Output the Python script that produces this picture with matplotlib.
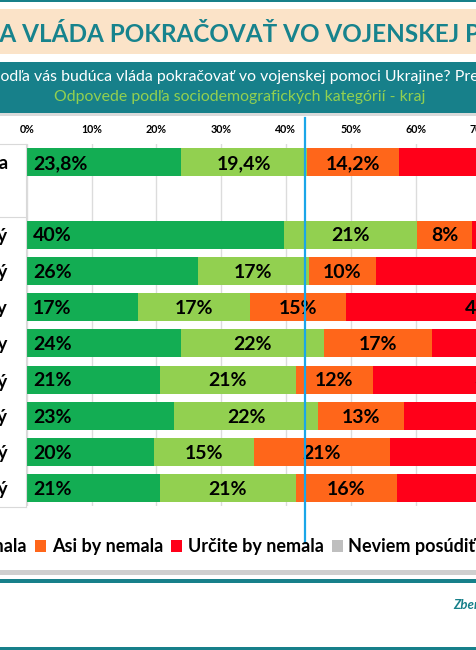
import matplotlib
matplotlib.use('Agg')
import matplotlib.pyplot as plt
from matplotlib.patches import Rectangle
from matplotlib.lines import Line2D
import numpy as np

plt.rcParams['font.family'] = ['Lato', 'DejaVu Sans']

W, H, DPI = 476, 650, 100

# ---------------- data ----------------
categories = ["Slovenská republika", "Bratislavský", "Trnavský", "Trenčiansky",
              "Nitriansky", "Žilinský", "Banskobystrický", "Prešovský", "Košický"]
series_names = ["Určite by mala", "Asi by mala", "Asi by nemala",
                "Určite by nemala", "Neviem posúdiť"]
urcite_mala   = [23.8, 39.7, 26.4, 17.1, 23.8, 20.6, 22.8, 19.6, 20.6]
asi_mala      = [19.4, 20.6, 17.1, 17.3, 22.1, 20.9, 22.1, 15.4, 20.9]
asi_nemala    = [14.2,  8.4, 10.4, 14.9, 16.6, 12.0, 13.4, 21.1, 15.6]
urcite_nemala = [33.9, 24.3, 38.2, 42.6, 29.4, 37.0, 33.2, 35.6, 34.4]
neviem        = [ 8.7,  7.0,  7.9,  8.1,  8.1,  9.5,  8.5,  8.3,  8.5]
tick_values = list(range(0, 101, 10))
tick_labels = [f"{v}%" for v in tick_values]
ref_line = 42.9

title = "MALA BY BUDÚCA VLÁDA POKRAČOVAŤ VO VOJENSKEJ POMOCI UKRAJINE?"
question = "Mala by podľa vás budúca vláda pokračovať vo vojenskej pomoci Ukrajine? Prečo?"
subtitle = "Odpovede podľa sociodemografických kategórií - kraj"
source = "Zber údajov: 2023"

colors = ['#13AD53', '#92D050', '#FF661A', '#FF0019', '#BFBFBF']
teal = '#17808A'
beige = '#FBE3C8'

series = [urcite_mala, asi_mala, asi_nemala, urcite_nemala, neviem]

fig = plt.figure(figsize=(W / DPI, H / DPI), dpi=DPI)
fig.patch.set_facecolor('white')


def add_rect(x0, y0, x1, y1, color, z=0):
    fig.add_artist(Rectangle((x0 / W, 1 - y1 / H), (x1 - x0) / W, (y1 - y0) / H,
                             transform=fig.transFigure, facecolor=color,
                             edgecolor='none', zorder=z))


def add_line(x0, y0, x1, y1, color, lw, z=1):
    fig.add_artist(Line2D([x0 / W, x1 / W], [1 - y0 / H, 1 - y1 / H],
                          transform=fig.transFigure, color=color, lw=lw, zorder=z))


# header decorations
add_rect(-5, 0, W + 5, 1.8, teal)
add_rect(-5, 9, W + 5, 54.3, beige)
add_rect(-5, 61.7, W + 5, 113.3, teal)
add_rect(-5, 113.3, W + 5, 116, '#DADADA')

# footer decorations
add_rect(-5, 569.5, W + 5, 574.5, '#CFCFCF')
add_rect(-5, 579.3, W + 5, 582.7, teal)
add_rect(-5, 646.5, W + 5, 650, teal)

renderer = fig.canvas.get_renderer()


def place_cut_text(full, prefix, x_end_px, y_base_px, **kw):
    tmp = fig.text(0, 0, prefix, **kw)
    wpre = tmp.get_window_extent(renderer).width
    tmp.remove()
    fig.text((x_end_px - wpre) / W, 1 - y_base_px / H, full, va='baseline', ha='left', **kw)


place_cut_text(title, "MALA BY BUDÚC", -1, 42.0,
               fontsize=17.5, fontweight='bold', color='#17838D')
place_cut_text(question, "Mala by ", -8, 81,
               fontsize=11.4, color='white')
fig.text(240 / W, 1 - 101 / H, subtitle, ha='center', va='baseline',
         fontsize=11.4, color='#92D050')
fig.text(453 / W, 1 - 609 / H, source, ha='left', va='baseline',
         fontsize=9.5, fontweight='bold', fontstyle='italic', color=teal)

# ---------------- chart ----------------
x0p, x1p = 26.7, 674.7
top, bot = 144.0, 506.4
ax = fig.add_axes([x0p / W, 1 - bot / H, (x1p - x0p) / W, (bot - top) / H])
ax.set_xlim(0, 100)
ax.set_ylim(9.5, -0.5)
ax.patch.set_alpha(0)

ypos = np.array([0] + [2 + i for i in range(len(categories) - 1)])
left = np.zeros(len(categories))
bars = []
for si, (vals, col) in enumerate(zip(series, colors)):
    vals = np.array(vals)
    b = ax.barh(ypos, vals, left=left, height=0.77, color=col, zorder=2,
                label=series_names[si])
    bars.append(b)
    for i, (v, l, y) in enumerate(zip(vals, left, ypos)):
        txt = f"{v:.1f}%".replace('.', ',') if i == 0 else f"{round(v)}%"
        if si == 0:
            ax.text(l + 1.0, y + 0.19, txt, ha='left', va='baseline',
                    fontsize=14, fontweight='bold', color='black', zorder=4)
        else:
            ax.text(l + v / 2, y + 0.19, txt, ha='center', va='baseline',
                    fontsize=14, fontweight='bold', color='black', zorder=4)
    left = left + vals

ax.set_xticks(tick_values)
ax.set_xticklabels(tick_labels, fontsize=7.7, fontweight='bold')
ax.xaxis.tick_top()
ax.tick_params(axis='x', length=0, pad=6.5)
ax.set_yticks(ypos)
ax.set_yticklabels(categories, fontsize=13.5, fontweight='bold')
ax.tick_params(axis='y', length=0, pad=13.7)
ax.grid(axis='x', color='#DCDCDC', lw=1.0, zorder=0)
ax.set_axisbelow(True)
for s in ax.spines.values():
    s.set_visible(False)

ax.axvline(ref_line, ymin=-0.101, ymax=1.072, color='#1AA6E8', lw=1.6,
           zorder=6, clip_on=False)

# label table borders
bc = '#D9D9D9'
add_line(26, 143.5, 26, 506.7, bc, 0.8)
add_line(-5, 143.5, 26, 143.5, bc, 0.8)
add_line(-5, 216.7, 26, 216.7, bc, 0.8)
add_line(-5, 506.7, 26, 506.7, bc, 0.8)

# legend
leg = fig.legend(handles=bars, labels=series_names, loc='center left',
                 bbox_to_anchor=(0, 1 - 546.7 / H), ncol=5, frameon=False,
                 prop={'size': 13, 'weight': 'bold'}, handlelength=0.62,
                 handleheight=0.62, handletextpad=0.3, columnspacing=0.45,
                 borderaxespad=0, borderpad=0)
fig.canvas.draw()
hx = leg.legend_handles[2].get_window_extent(renderer).x0
dx = 35 - hx
leg.set_bbox_to_anchor((dx / W, 1 - 546.7 / H), transform=fig.transFigure)

fig.savefig('out.png', dpi=DPI)
